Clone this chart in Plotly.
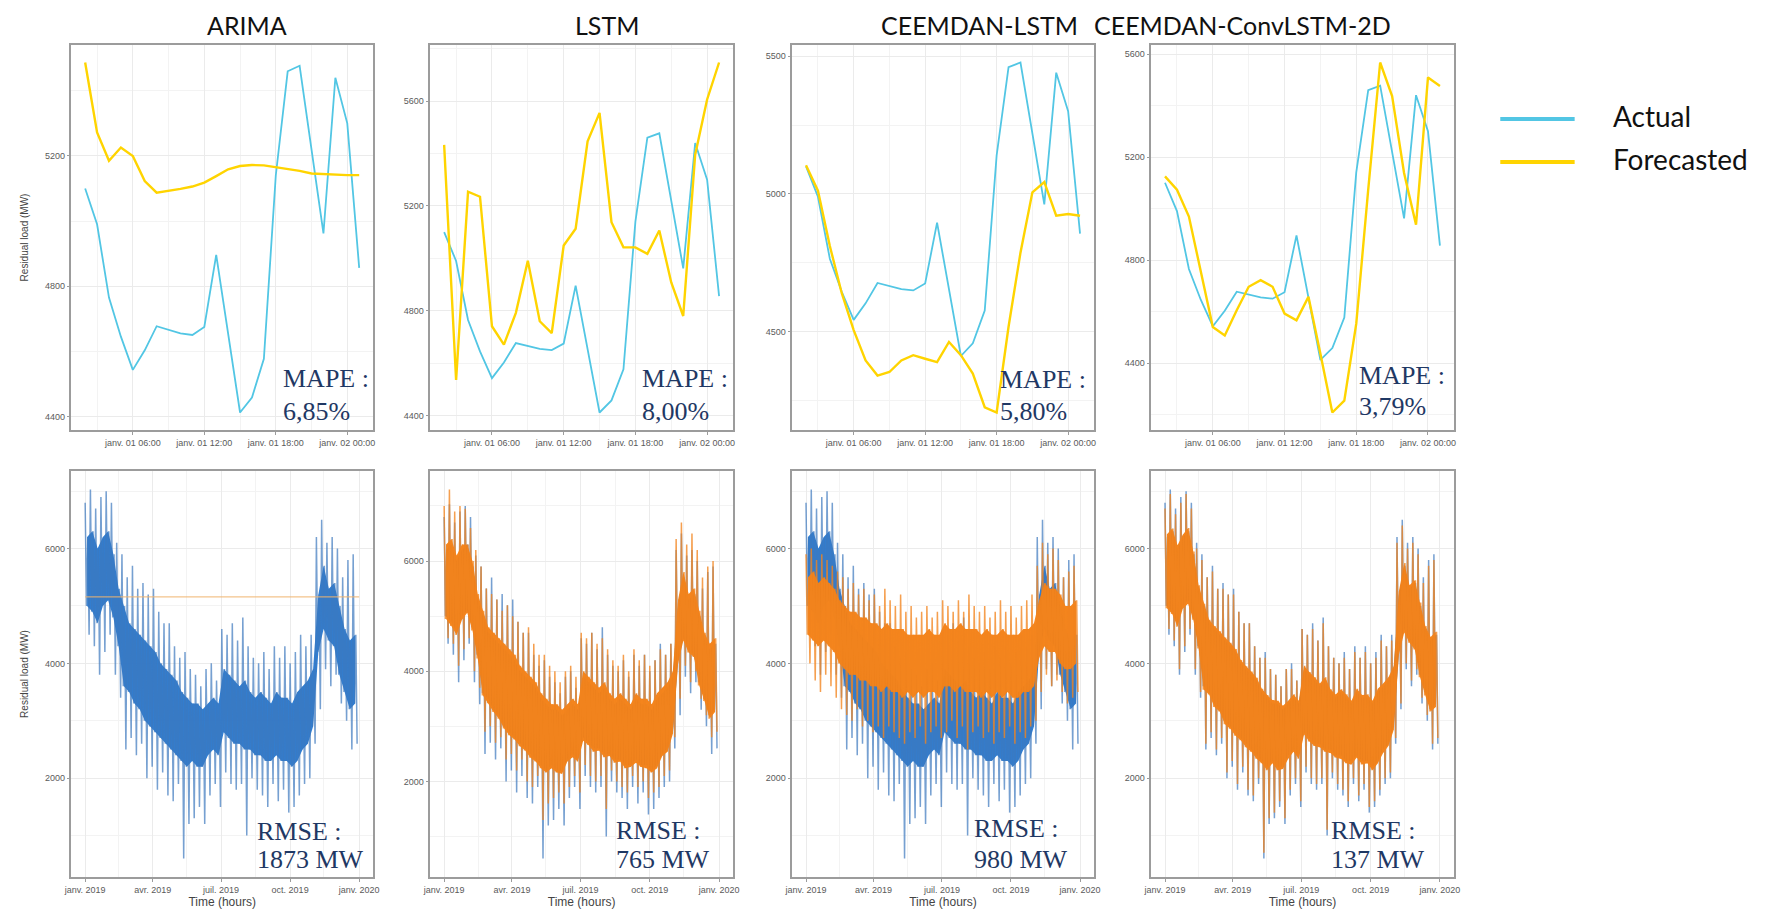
import pandas as pd
import plotly.graph_objects as go

W, H = 1775, 914

models = ["ARIMA", "LSTM", "CEEMDAN-LSTM", "CEEMDAN-ConvLSTM-2D"]
mape_labels = ["6,85%", "8,00%", "5,80%", "3,79%"]
rmse_labels = ["1873 MW", "765 MW", "980 MW", "137 MW"]

# ---- one test day, hourly (janv. 01 02:00 -> janv. 02 01:00), MW ----
day_actual = [5100, 4990, 4765, 4645, 4543, 4603, 4677, 4665, 4655, 4650, 4675, 4896,
              4651, 4412, 4458, 4577, 5140, 5460, 5477, 5225, 4962, 5440, 5300, 4856]
day_arima = [5487, 5272, 5185, 5226, 5200, 5123, 5087, 5092, 5099, 5106, 5118, 5138,
             5159, 5169, 5172, 5171, 5166, 5159, 5154, 5146, 5144, 5141, 5141, 5141]
day_lstm = [5433, 4536, 5254, 5235, 4741, 4671, 4792, 4991, 4760, 4715, 5049, 5113,
            5446, 5555, 5138, 5042, 5042, 5017, 5106, 4908, 4780, 5395, 5606, 5747]
day_ceemdan_lstm = [5104, 5012, 4811, 4640, 4506, 4396, 4341, 4354, 4396, 4415, 4402, 4390,
                    4463, 4415, 4348, 4226, 4207, 4518, 4787, 5006, 5043, 4921, 4927, 4921]
day_ceemdan_conv = [5125, 5073, 4969, 4761, 4540, 4507, 4605, 4696, 4722, 4696, 4592, 4566,
                    4657, 4436, 4208, 4254, 4553, 5073, 5567, 5437, 5138, 4937, 5509, 5476]
day_forecasts = [day_arima, day_lstm, day_ceemdan_lstm, day_ceemdan_conv]

# ---- full year 2019, weekly envelopes of the hourly series, MW ----
# spike_hi / spike_lo: extreme hours of the week; core_hi / core_lo: bulk of the hours
actual_spike_hi = [6800, 7030, 6700, 6900, 7000, 6800, 6100, 5900, 5500, 5700, 5300, 5400, 5200,
                   5300, 4900, 4700, 4700, 4300, 4100, 4200, 3900, 3800, 3600, 3900, 4000, 3700,
                   4600, 4500, 4700, 4400, 4800, 4300, 4100, 4000, 4200, 3900, 4300, 4100, 4300,
                   4000, 4200, 4500, 4300, 4500, 6200, 6500, 6100, 6200, 6000, 5500, 5800, 5900]
actual_spike_lo = [4500, 4300, 3800, 4200, 4500, 3800, 3400, 2500, 2700, 2400, 2600, 2000, 2200,
                   1800, 2100, 1700, 1600, 1900, 600, 1200, 1300, 1500, 1200, 1700, 1900, 1500,
                   2100, 1900, 1800, 1900, 1000, 2000, 1800, 1700, 1500, 1900, 1600, 1800, 1400,
                   1500, 1700, 1900, 2000, 2600, 3200, 3900, 3600, 3800, 3300, 3000, 2500, 2600]
actual_core_hi = [6200, 6300, 6000, 6200, 6300, 5900, 5300, 5000, 4700, 4600, 4500, 4400, 4300,
                  4200, 4000, 3900, 3800, 3700, 3500, 3400, 3300, 3300, 3200, 3300, 3400, 3300,
                  3900, 3800, 3700, 3600, 3700, 3500, 3400, 3500, 3400, 3300, 3500, 3400, 3400,
                  3300, 3500, 3600, 3700, 3900, 5200, 5700, 5300, 5400, 5000, 4600, 4400, 4500]
actual_core_lo = [5000, 4900, 4700, 5000, 5100, 4800, 4300, 3600, 3500, 3300, 3200, 3000, 2900,
                  2800, 2700, 2600, 2500, 2400, 2300, 2200, 2300, 2200, 2200, 2400, 2500, 2400,
                  2800, 2700, 2600, 2600, 2500, 2500, 2400, 2400, 2300, 2300, 2400, 2300, 2300,
                  2200, 2300, 2500, 2600, 2900, 4200, 4600, 4400, 4300, 3800, 3500, 3200, 3300]

arima_year_fc = [5160, 5160]

lstm_spike_hi = [7000, 7300, 6900, 7000, 6950, 6600, 6200, 5900, 5500, 5400, 5300, 5100, 5200,
                 5000, 4900, 4700, 4800, 4500, 4300, 4300, 4100, 4000, 3800, 4000, 4100, 3900,
                 4700, 4600, 4700, 4500, 4600, 4400, 4200, 4100, 4300, 4000, 4400, 4200, 4300,
                 4100, 4200, 4400, 4300, 4500, 6400, 6700, 6300, 6500, 6200, 5700, 5900, 6000]
lstm_spike_lo = [4600, 4500, 4100, 4400, 4600, 4000, 3700, 2900, 3000, 2700, 2800, 2400, 2500,
                 2200, 2400, 2000, 1900, 2100, 1300, 1600, 1700, 1800, 1600, 1900, 2100, 1800,
                 2300, 2100, 2000, 2100, 1500, 2200, 2000, 1900, 1800, 2100, 1900, 2000, 1700,
                 1800, 1900, 2100, 2200, 2800, 3500, 4100, 3800, 4000, 3500, 3200, 2800, 2900]
lstm_core_hi = [6300, 6400, 6100, 6300, 6300, 6000, 5400, 5100, 4800, 4700, 4600, 4500, 4400,
                4300, 4100, 4000, 3900, 3800, 3600, 3500, 3400, 3400, 3300, 3400, 3500, 3400,
                4000, 3900, 3800, 3700, 3800, 3600, 3500, 3600, 3500, 3400, 3600, 3500, 3500,
                3400, 3600, 3700, 3800, 4000, 5300, 5800, 5400, 5500, 5100, 4700, 4500, 4600]
lstm_core_lo = [4950, 4820, 4660, 4930, 5060, 4740, 4230, 3560, 3420, 3260, 3140, 2960, 2840,
                2760, 2640, 2560, 2430, 2360, 2240, 2160, 2240, 2160, 2140, 2360, 2440, 2360,
                2740, 2660, 2540, 2560, 2440, 2460, 2340, 2360, 2240, 2260, 2340, 2260, 2240,
                2160, 2240, 2460, 2540, 2860, 4140, 4560, 4340, 4260, 3740, 3460, 3140, 3260]

ceem_spike_hi = [5900, 6000, 5800, 5900, 5800, 5700, 5600, 5500, 5300, 5400, 5200, 5300, 5100,
                 5200, 5000, 5300, 5100, 5000, 5200, 4900, 5000, 4800, 4900, 5000, 4800, 4900,
                 5100, 5000, 4900, 5100, 4900, 5200, 5000, 4900, 5000, 4800, 4900, 5100, 4900,
                 5000, 4800, 5000, 5100, 5200, 5700, 6100, 5900, 6000, 5800, 5500, 5600, 5700]
ceem_spike_lo = [4000, 3700, 3500, 3800, 3600, 3400, 3200, 3100, 3000, 3200, 2900, 3000, 2800,
                 2900, 2700, 2900, 2800, 2700, 2600, 2800, 2700, 2900, 2600, 2800, 2900, 2700,
                 2800, 3000, 2700, 2900, 2500, 2800, 2900, 2700, 2800, 2600, 2800, 2700, 2900,
                 2600, 2800, 2700, 2900, 3000, 3500, 3800, 3600, 3700, 3500, 3300, 3400, 3500]
ceem_core_hi = [5500, 5600, 5400, 5500, 5400, 5300, 5100, 5000, 4900, 4900, 4800, 4800, 4700,
                4700, 4600, 4700, 4600, 4600, 4600, 4500, 4500, 4500, 4500, 4600, 4500, 4500,
                4700, 4600, 4600, 4700, 4600, 4600, 4600, 4500, 4600, 4500, 4500, 4600, 4500,
                4500, 4500, 4600, 4600, 4700, 5100, 5400, 5300, 5300, 5200, 5000, 5000, 5100]
ceem_core_lo = [4500, 4400, 4300, 4400, 4300, 4200, 4000, 3900, 3800, 3800, 3700, 3700, 3600,
                3600, 3500, 3600, 3500, 3500, 3400, 3500, 3400, 3500, 3400, 3500, 3500, 3400,
                3600, 3600, 3500, 3600, 3500, 3500, 3500, 3400, 3500, 3400, 3500, 3400, 3500,
                3400, 3400, 3500, 3500, 3600, 4100, 4300, 4200, 4200, 4000, 3900, 3900, 4000]

conv_spike_hi = [6700, 6950, 6600, 6800, 6950, 6700, 6000, 5800, 5500, 5600, 5300, 5300, 5200,
                 5200, 4900, 4700, 4700, 4300, 4100, 4100, 3900, 3800, 3600, 3900, 3900, 3700,
                 4600, 4500, 4600, 4400, 4700, 4300, 4100, 4000, 4100, 3900, 4200, 4100, 4200,
                 4000, 4100, 4400, 4300, 4400, 6100, 6400, 6000, 6100, 5900, 5400, 5700, 5800]
conv_spike_lo = [4600, 4400, 3900, 4300, 4600, 3900, 3500, 2600, 2800, 2500, 2700, 2100, 2300,
                 1900, 2200, 1800, 1700, 2000, 700, 1300, 1400, 1600, 1300, 1800, 2000, 1600,
                 2200, 2000, 1900, 2000, 1100, 2100, 1900, 1800, 1600, 2000, 1700, 1900, 1500,
                 1600, 1800, 2000, 2100, 2700, 3300, 4000, 3700, 3900, 3400, 3100, 2600, 2700]
conv_core_hi = [6250, 6350, 6060, 6240, 6360, 5950, 5360, 5040, 4760, 4650, 4560, 4450, 4360,
                4250, 4060, 3950, 3860, 3750, 3560, 3450, 3360, 3350, 3260, 3350, 3460, 3350,
                3960, 3850, 3760, 3650, 3760, 3550, 3460, 3550, 3460, 3350, 3560, 3450, 3460,
                3350, 3560, 3650, 3760, 3950, 5260, 5750, 5360, 5450, 5060, 4650, 4460, 4550]
conv_core_lo = [4960, 4860, 4640, 4950, 5040, 4760, 4260, 3540, 3460, 3240, 3160, 2940, 2860,
                2740, 2660, 2540, 2460, 2340, 2260, 2140, 2260, 2140, 2160, 2340, 2460, 2340,
                2760, 2640, 2560, 2540, 2460, 2440, 2360, 2340, 2260, 2240, 2360, 2240, 2260,
                2140, 2260, 2440, 2560, 2840, 4160, 4540, 4360, 4240, 3760, 3440, 3160, 3240]

year_forecasts = [
    None,
    (lstm_spike_hi, lstm_spike_lo, lstm_core_hi, lstm_core_lo),
    (ceem_spike_hi, ceem_spike_lo, ceem_core_hi, ceem_core_lo),
    (conv_spike_hi, conv_spike_lo, conv_core_hi, conv_core_lo),
]

# ---- axis ticks ----
day_ticks = ["2019-01-01 06:00", "2019-01-01 12:00", "2019-01-01 18:00", "2019-01-02 00:00"]
day_ticktext = ["janv. 01 06:00", "janv. 01 12:00", "janv. 01 18:00", "janv. 02 00:00"]
day_minor = ["2019-01-01 03:00", "2019-01-01 09:00", "2019-01-01 15:00", "2019-01-01 21:00"]
day_yticks = [[4400, 4800, 5200], [4400, 4800, 5200, 5600], [4500, 5000, 5500], [4400, 4800, 5200, 5600]]
day_yminor = [[4600, 5000, 5400], [4600, 5000, 5400, 5800], [4250, 4750, 5250], [4200, 4600, 5000, 5400]]

year_ticks = ["2019-01-01", "2019-04-01", "2019-07-01", "2019-10-01", "2020-01-01"]
year_ticktext = ["janv. 2019", "avr. 2019", "juil. 2019", "oct. 2019", "janv. 2020"]
year_minor = ["2019-02-15", "2019-05-16", "2019-08-16", "2019-11-15"]
year_yticks = [2000, 4000, 6000]
year_yminor = [1000, 3000, 5000, 7000]

# ---- colours / fonts ----
C_ACT_DAY = "#52C6E4"
C_FC_DAY = "#FFD400"
C_ACT = "rgba(31,116,207,0.92)"
C_ACT_SPIKE = "rgba(60,120,190,0.7)"
C_FC = "rgba(245,127,18,0.95)"
C_FC_SPIKE = "rgba(242,132,30,0.78)"
NAVY = "#1F3864"
TICK_FONT = dict(family="Liberation Sans, Arial", size=9, color="#5a5a5a")
SERIF = "Liberation Serif, Times New Roman, serif"
SANS = "Lato, Open Sans, sans-serif"

# ---- panel boxes (pixels) ----
col_px = [(64, 368), (426, 731), (791, 1095), (1153, 1458)]
top_px = (45, 430)
bot_px = (471, 877)


def fx(px):
    return px / W


def fy(py):
    return 1 - py / H


day_index = pd.date_range("2019-01-01 02:00", periods=len(day_actual), freq="h")
year_start = pd.Timestamp("2019-01-01")


def padded(lo, hi, frac=0.05):
    span = hi - lo
    return [lo - frac * span, hi + frac * span]


def date_padded(t0, t1, frac=0.05):
    span = t1 - t0
    return [str(t0 - frac * span), str(t1 + frac * span)]


def zigzag(spike_hi, core_lo, core_hi, spike_lo):
    xs, ys = [], []
    for i in range(len(spike_hi)):
        t = year_start + pd.Timedelta(days=7 * i)
        for k, v in enumerate((spike_hi[i], core_lo[i], core_hi[i], spike_lo[i])):
            xs.append(t + pd.Timedelta(hours=42 * k))
            ys.append(v)
    return xs, ys


def core_band(core_hi, core_lo):
    mids = [year_start + pd.Timedelta(days=7 * i + 2.6) for i in range(len(core_hi))]
    return mids + mids[::-1], list(core_hi) + list(core_lo)[::-1]


fig = go.Figure()
layout = {}

axis_common = dict(
    showline=True, mirror=True, linecolor="#9c9c9c", linewidth=1.5,
    ticks="outside", ticklen=3, tickcolor="#9c9c9c", tickwidth=1,
    showgrid=True, gridcolor="#EBEBEB", gridwidth=1, zeroline=False,
    tickfont=TICK_FONT, fixedrange=True,
)

year_end = pd.Timestamp("2019-12-31 23:00")

for c in range(4):
    # ---------- top row: one day ----------
    n = c + 1
    xa, ya = f"x{n}", f"y{n}"
    fc = day_forecasts[c]
    fig.add_trace(go.Scatter(x=day_index, y=day_actual, mode="lines", xaxis=xa, yaxis=ya,
                             line=dict(color=C_ACT_DAY, width=1.8), showlegend=False))
    fig.add_trace(go.Scatter(x=day_index, y=fc, mode="lines", xaxis=xa, yaxis=ya,
                             line=dict(color=C_FC_DAY, width=2.4), showlegend=False))
    lo = min(min(day_actual), min(fc))
    hi = max(max(day_actual), max(fc))
    layout[f"xaxis{n}"] = dict(
        axis_common, domain=[fx(col_px[c][0]), fx(col_px[c][1])], anchor=ya,
        range=date_padded(day_index[0], day_index[-1]), type="date",
        tickmode="array", tickvals=day_ticks, ticktext=day_ticktext,
        minor=dict(tickmode="array", tickvals=day_minor, showgrid=True,
                   gridcolor="#F3F3F3", gridwidth=0.6, ticks=""),
    )
    layout[f"yaxis{n}"] = dict(
        axis_common, domain=[fy(top_px[1]), fy(top_px[0])], anchor=xa,
        range=padded(lo, hi), tickmode="array", tickvals=day_yticks[c],
        ticktext=[str(v) for v in day_yticks[c]],
        minor=dict(tickmode="array", tickvals=day_yminor[c], showgrid=True,
                   gridcolor="#F3F3F3", gridwidth=0.6, ticks=""),
    )

    # ---------- bottom row: full year ----------
    m = c + 5
    xb, yb = f"x{m}", f"y{m}"
    bx, by = core_band(actual_core_hi, actual_core_lo)
    fig.add_trace(go.Scatter(x=bx, y=by, mode="lines", fill="toself", fillcolor=C_ACT,
                             line=dict(width=0, color=C_ACT), xaxis=xb, yaxis=yb, showlegend=False))
    zx, zy = zigzag(actual_spike_hi, actual_core_lo, actual_core_hi, actual_spike_lo)
    fig.add_trace(go.Scatter(x=zx, y=zy, mode="lines", line=dict(color=C_ACT_SPIKE, width=1.5),
                             xaxis=xb, yaxis=yb, showlegend=False))
    lo_y = min(actual_spike_lo)
    hi_y = max(actual_spike_hi)
    if year_forecasts[c] is None:
        fig.add_trace(go.Scatter(x=[year_start, year_end], y=arima_year_fc, mode="lines",
                                 line=dict(color="rgba(240,180,110,0.8)", width=1.2),
                                 xaxis=xb, yaxis=yb, showlegend=False))
    else:
        s_hi, s_lo, k_hi, k_lo = year_forecasts[c]
        bx, by = core_band(k_hi, k_lo)
        fig.add_trace(go.Scatter(x=bx, y=by, mode="lines", fill="toself", fillcolor=C_FC,
                                 line=dict(width=0, color=C_FC), xaxis=xb, yaxis=yb, showlegend=False))
        zx, zy = zigzag(s_hi, k_lo, k_hi, s_lo)
        fig.add_trace(go.Scatter(x=zx, y=zy, mode="lines", line=dict(color=C_FC_SPIKE, width=1.5),
                                 xaxis=xb, yaxis=yb, showlegend=False))
        lo_y = min(lo_y, min(s_lo))
        hi_y = max(hi_y, max(s_hi))
    layout[f"xaxis{m}"] = dict(
        axis_common, domain=[fx(col_px[c][0]), fx(col_px[c][1])], anchor=yb,
        range=date_padded(year_start, pd.Timestamp("2020-01-01")), type="date",
        tickmode="array", tickvals=year_ticks, ticktext=year_ticktext,
        title=dict(text="Time (hours)", font=dict(family="Liberation Sans, Arial", size=12, color="#444"),
                   standoff=2),
        minor=dict(tickmode="array", tickvals=year_minor, showgrid=True,
                   gridcolor="#F3F3F3", gridwidth=0.6, ticks=""),
    )
    layout[f"yaxis{m}"] = dict(
        axis_common, domain=[fy(bot_px[1]), fy(bot_px[0])], anchor=xb,
        range=padded(lo_y, hi_y), tickmode="array", tickvals=year_yticks,
        ticktext=[str(v) for v in year_yticks],
        minor=dict(tickmode="array", tickvals=year_yminor, showgrid=True,
                   gridcolor="#F3F3F3", gridwidth=0.6, ticks=""),
    )

ytitle = dict(text="Residual load (MW)", font=dict(family="Liberation Sans, Arial", size=10, color="#444"),
              standoff=14)
layout["yaxis1"]["title"] = ytitle
layout["yaxis5"]["title"] = ytitle

annotations = []
title_cx = [241, 604, 980, 1245]
for c, name in enumerate(models):
    annotations.append(dict(text=name, x=fx(title_cx[c]), y=fy(25), xref="paper", yref="paper",
                            showarrow=False, xanchor="center", yanchor="middle",
                            font=dict(family=SANS, size=25, color="#111")))

mape_left = [275, 637, 998, 1360]
mape_y = [(378, 411), (378, 411), (380, 411), (375, 407)]
rmse_left = [249, 611, 972, 1332]
rmse_y = [(831, 859), (830, 859), (828, 859), (830, 859)]
for c in range(4):
    for txt, py in (("MAPE :", mape_y[c][0]), (mape_labels[c], mape_y[c][1])):
        annotations.append(dict(text=txt, x=fx(mape_left[c]), y=fy(py), xref="paper", yref="paper",
                                showarrow=False, xanchor="left", yanchor="middle",
                                font=dict(family=SERIF, size=26, color=NAVY)))
    for txt, py in (("RMSE :", rmse_y[c][0]), (rmse_labels[c], rmse_y[c][1])):
        annotations.append(dict(text=txt, x=fx(rmse_left[c]), y=fy(py), xref="paper", yref="paper",
                                showarrow=False, xanchor="left", yanchor="middle",
                                font=dict(family=SERIF, size=26, color=NAVY)))

# legend drawn as line swatches with labels
shapes = []
for py, col, label in ((119, C_ACT_DAY, "Actual"), (162, C_FC_DAY, "Forecasted")):
    shapes.append(dict(type="line", xref="paper", yref="paper", x0=fx(1505), x1=fx(1580),
                       y0=fy(py), y1=fy(py), line=dict(color=col, width=4)))
    annotations.append(dict(text=label, x=fx(1617), y=fy(py - 3), xref="paper", yref="paper",
                            showarrow=False, xanchor="left", yanchor="middle",
                            font=dict(family=SANS, size=28, color="#111")))

fig.update_layout(
    width=W, height=H, margin=dict(l=0, r=0, t=0, b=0),
    paper_bgcolor="white", plot_bgcolor="white",
    showlegend=False, annotations=annotations, shapes=shapes,
    **layout,
)

fig.write_html("out.html")
